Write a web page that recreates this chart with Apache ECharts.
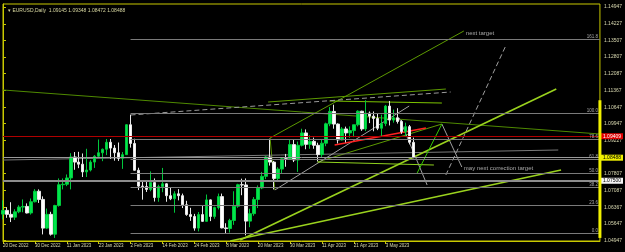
<!DOCTYPE html>
<html>
<head>
<meta charset="utf-8">
<script src="https://cdn.jsdelivr.net/npm/echarts@6/dist/echarts.min.js"></script>
<style>
  html, body { margin: 0; padding: 0; background: #000; }
  #chart { width: 625px; height: 252px; }
</style>
</head>
<body>
<div id="chart"></div>
<script>
// EURUSD daily, 20 Dec 2022 .. 12 May 2023 (bar index 0..103)
const openPrices = [1.0607,1.0623,1.0606,1.0594,1.0617,1.0637,1.0640,1.0612,1.0660,
  1.0705,1.0670,1.0547,1.0606,1.0521, 1.0644,1.0733,1.0735,1.0762,1.0852,
  1.0830,1.0821,1.0788,1.0796,1.0830, 1.0855,1.0870,1.0885,1.0915,1.0890,
  1.0870,1.0846,1.0862,1.0990,1.0910, 1.0795,1.0727,1.0725,1.0713,1.0742,
  1.0678,1.0725,1.0737,1.0686,1.0673, 1.0694,1.0686,1.0647,1.0605,1.0597,
  1.0547,1.0605,1.0576,1.0668,1.0597, 1.0635,1.0682,1.0548,1.0545,1.0580,
  1.0641,1.0733,1.0732,1.0577,1.0609, 1.0670,1.0719,1.0769,1.0852,1.0830,
  1.0760,1.0800,1.0844,1.0843,1.0905, 1.0839,1.0902,1.0955,1.0906,1.0919,
  1.0902,1.0862,1.0911,1.0994,1.1047, 1.0993,1.0925,1.0972,1.0955,1.0965,
  1.0990,1.1048,1.0972,1.1040,1.1027, 1.1017,1.0975,1.0995,1.1070,1.1010,
  1.1020,1.1004,1.0960,1.0982,1.09145]
const closePrices = [1.0623,1.0606,1.0594,1.0617,1.0637,1.0640,1.0612,1.0660,1.0705,
  1.0670,1.0547,1.0606,1.0521,1.0644, 1.0733,1.0735,1.0762,1.0852,1.0830,
  1.0821,1.0788,1.0796,1.0830,1.0855, 1.0870,1.0885,1.0915,1.0890,1.0870,
  1.0846,1.0862,1.0990,1.0910,1.0795, 1.0727,1.0725,1.0713,1.0742,1.0678,
  1.0725,1.0737,1.0686,1.0673,1.0694, 1.0686,1.0647,1.0605,1.0597,1.0547,
  1.0605,1.0576,1.0668,1.0597,1.0635, 1.0682,1.0548,1.0545,1.0580,1.0641,
  1.0733,1.0732,1.0577,1.0609,1.0670, 1.0719,1.0769,1.0852,1.0830,1.0760,
  1.0800,1.0844,1.0843,1.0905,1.0839, 1.0902,1.0955,1.0906,1.0919,1.0902,
  1.0862,1.0911,1.0994,1.1047,1.0993, 1.0925,1.0972,1.0955,1.0965,1.0990,
  1.1048,1.0972,1.1040,1.1027,1.1017, 1.0975,1.0995,1.1070,1.1010,1.1020,
  1.1004,1.0960,1.0982,1.0915,1.08488]
const highPrices = [1.0666,1.0637,1.0658,1.0628,1.0645,1.0670,1.0653,1.0674,1.0714,
  1.0713,1.0683,1.0631,1.0617,1.0647, 1.0760,1.0760,1.0777,1.0868,1.0873,
  1.0874,1.0867,1.0887,1.0838,1.0860, 1.0927,1.0888,1.0929,1.0929,1.0903,
  1.0914,1.0873,1.0992,1.1033,1.0930, 1.0806,1.0748,1.0745,1.0790,1.0760,
  1.0733,1.0805,1.0740,1.0720,1.0705, 1.0714,1.0695,1.0664,1.0634,1.0608,
  1.0616,1.0645,1.0691,1.0670,1.0639, 1.0695,1.0695,1.0568,1.0587,1.0705,
  1.0737,1.0759,1.0760,1.0630,1.0680, 1.0730,1.0788,1.0857,1.0930,1.0835,
  1.0808,1.0847,1.0865,1.0927,1.0925, 1.0918,1.0973,1.0970,1.0945,1.0935,
  1.0913,1.0927,1.0999,1.1066,1.1076, 1.0996,1.0980,1.0982,1.0983,1.0990,
  1.1052,1.1050,1.1095,1.1047,1.1047, 1.1038,1.1033,1.1075,1.1092,1.1055,
  1.1061,1.1010,1.0999,1.0989,1.09348]
const lowPrices = [1.0585,1.0591,1.0573,1.0582,1.0611,1.0615,1.0610,1.0605,1.0657,
  1.0655,1.0520,1.0543,1.0515,1.0505, 1.0639,1.0713,1.0727,1.0713,1.0797,
  1.0804,1.0766,1.0766,1.0790,1.0805, 1.0849,1.0834,1.0860,1.0844,1.0836,
  1.0835,1.0801,1.0862,1.0892,1.0794, 1.0710,1.0669,1.0702,1.0705,1.0661,
  1.0660,1.0701,1.0660,1.0667,1.0613, 1.0666,1.0633,1.0600,1.0578,1.0536,
  1.0533,1.0574,1.0575,1.0577,1.0587, 1.0627,1.0546,1.0524,1.0528,1.0561,
  1.0634,1.0688,1.0516,1.0551,1.0600, 1.0633,1.0714,1.0757,1.0815,1.0713,
  1.0748,1.0782,1.0810,1.0840,1.0830, 1.0788,1.0897,1.0885,1.0887,1.0887,
  1.0833,1.0852,1.0898,1.0984,1.0973, 1.0910,1.0923,1.0914,1.0934,1.0937,
  1.0983,1.0964,1.0963,1.0997,1.0962, 1.0967,1.0941,1.0984,1.0987,1.0999,
  1.0995,1.0951,1.0942,1.0906,1.08472]

const xTickBars = [0, 8, 16, 24, 32, 40, 48, 56, 64, 72, 80, 88, 96]
const xTickLabels = ['20 Dec 2022', '30 Dec 2022', '11 Jan 2023', '23 Jan 2023', '2 Feb 2023',
  '14 Feb 2023', '24 Feb 2023', '8 Mar 2023', '20 Mar 2023', '30 Mar 2023', '11 Apr 2023',
  '21 Apr 2023', '3 May 2023']
const yTicks = [1.14947, 1.14227, 1.13507, 1.12807, 1.12087, 1.11367, 1.10647, 1.09947,
  1.09227, 1.07807, 1.07087, 1.06367, 1.05647, 1.04947]

// fibonacci retracement, anchored Feb 2 high -> Feb 24
const fibAnchorBars = [32, 48]
const fibHigh = 1.1038
const fibLow = 1.0526
const fibRatios = [0, 23.6, 38.2, 50.0, 61.8, 78.6, 100.0, 161.8]

// horizontal price lines
const redLevel = 1.09409
const bidLevel = 1.08488
const whiteLevel = 1.07500

// hand drawn lines, [bar, price]
const oliveFall = [[0, 1.11390], [149.75, 1.09504]]
const oliveTarget = [[68.2, 1.07104], [67.0, 1.09332], [115.6, 1.13918]]
const oliveTop = [[66.5, 1.10875], [111.1, 1.11432]]
const oliveTri = [[78.9, 1.08304], [110.1, 1.09932]]
const limeTopFlat = [[81.9, 1.10918], [110.1, 1.10832]]
const greyDashTop = [[32, 1.10318], [112.3, 1.11304]]
const greyDashSteep = [[111.1, 1.07747], [126.1, 1.13275]]
const greyLong = [[0, 1.08389], [139.3, 1.08818]]
const greyRise = [[68.2, 1.07104], [101.9, 1.10704]]
const greyDown1 = [[99.4, 1.10189], [106.4, 1.07318]]
const greyDown2 = [[110.1, 1.09932], [115.1, 1.08089]]
const limeSteep = [[59.5, 1.04961], [138.8, 1.11432]]
const limeLow = [[57.0, 1.04918], [140.0, 1.07961]]
const limeFlat = [[78.9, 1.08304], [108.1, 1.08175]]
const greenZig = [[103.9, 1.07832], [110.1, 1.09932]]
const redShort = [[83.2, 1.09032], [106.1, 1.09761]]

const notes = [
    { text: 'next target', at: [116.1, 1.13833] },
    { text: 'may next correction target', at: [115.6, 1.08047] },
]

const X_MAX = 149.75
const FONT = 'Liberation Sans'
const AXIS_TEXT = '#d8d8b0'

const chart = echarts.init(document.getElementById('chart'))

const candles = openPrices.map((o, i) => [i, o, closePrices[i], lowPrices[i], highPrices[i]])

function seg(points, color, width, type) {
    return {
        type: 'line',
        data: points,
        symbol: 'none',
        silent: true,
        animation: false,
        lineStyle: { color: color, width: width, type: type || 'solid' },
        z: 3,
    }
}

const fibSpan = fibHigh - fibLow
const fibLines = fibRatios.map(r => {
    const v = fibLow + fibSpan * r / 100
    return [
        { coord: [fibAnchorBars[0], v], label: { formatter: r.toFixed(1) } },
        { coord: [X_MAX, v] },
    ]
})

function priceLine(value, lineColor, lineWidth, bg, fg) {
    return [
        { coord: [0, value], lineStyle: { color: lineColor, width: lineWidth, type: 'solid' } },
        {
            coord: [X_MAX, value],
            label: {
                show: true,
                position: 'end',
                distance: 1,
                formatter: value.toFixed(5),
                backgroundColor: bg,
                color: fg,
                padding: [1, 2, 0, 2],
                fontSize: 5,
                fontFamily: FONT,
            },
        },
    ]
}

chart.setOption({
    backgroundColor: '#000',
    animation: false,
    title: {
        text: '\u25BE EURUSD,Daily  1.09145 1.09348 1.08472 1.08488',
        left: 3,
        top: 3,
        textStyle: { color: '#d8d8a0', fontSize: 5, fontWeight: 'normal', fontFamily: FONT },
    },
    grid: {
        left: 1.5,
        right: 23,
        top: 4,
        bottom: 11,
        show: true,
        borderColor: '#c8c800',
        borderWidth: 1,
        backgroundColor: '#000',
    },
    xAxis: {
        type: 'value',
        min: 0,
        max: X_MAX,
        splitLine: { show: false },
        axisLine: { show: true, lineStyle: { color: '#c8c800' } },
        axisTick: {
            show: true,
            customValues: xTickBars,
            length: 3,
            lineStyle: { color: '#c8c800' },
        },
        axisLabel: {
            customValues: xTickBars,
            formatter: v => xTickLabels[xTickBars.indexOf(v)] || '',
            color: AXIS_TEXT,
            fontSize: 4.5,
            fontFamily: FONT,
            align: 'left',
            margin: 2,
        },
    },
    yAxis: {
        type: 'value',
        position: 'right',
        min: 1.04918,
        max: 1.15076,
        scale: true,
        splitLine: { show: false },
        axisLine: { show: true, lineStyle: { color: '#c8c800' } },
        axisTick: {
            show: true,
            customValues: yTicks,
            length: 3,
            lineStyle: { color: '#c8c800' },
        },
        axisLabel: {
            customValues: yTicks,
            formatter: v => v.toFixed(5),
            color: AXIS_TEXT,
            fontSize: 5,
            fontFamily: FONT,
            margin: 4,
        },
    },
    series: [
        {
            type: 'line',
            data: [],
            silent: true,
            markLine: {
                symbol: 'none',
                silent: true,
                precision: 5,
                lineStyle: { color: '#7a7a7a', width: 1, type: 'solid' },
                label: {
                    show: true,
                    position: 'insideEndTop',
                    distance: [2, 0],
                    color: '#a8a8a8',
                    fontSize: 4.5,
                    fontFamily: FONT,
                },
                data: fibLines,
            },
            z: 2,
        },
        {
            type: 'line',
            data: [],
            silent: true,
            markLine: {
                symbol: 'none',
                silent: true,
                precision: 5,
                data: [
                    priceLine(redLevel, '#b00000', 1, '#e00000', '#fff'),
                    priceLine(bidLevel, '#9a9a9a', 1, '#f0f000', '#000'),
                    priceLine(whiteLevel, '#8c8c8c', 2, '#f4f4f4', '#000'),
                ],
            },
            z: 2,
        },
        {
            type: 'candlestick',
            data: candles,
            encode: { x: 0, y: [1, 2, 3, 4] },
            barWidth: 3,
            silent: true,
            itemStyle: {
                color: '#00e64c',
                color0: '#ffffff',
                borderColor: '#00c83c',
                borderColor0: '#e8e8e8',
                borderWidth: 1,
            },
            z: 4,
        },
        seg(oliveFall, '#4f8a00', 1),
        seg(oliveTarget, '#5d9a00', 1),
        seg(oliveTop, '#5d9a00', 1),
        seg(oliveTri, '#5d9a00', 1),
        seg(limeTopFlat, '#7cc400', 1),
        seg(greyDashTop, '#9a9a9a', 1, [5, 3]),
        seg(greyDashSteep, '#a0a0a0', 1, [5, 3]),
        seg(greyLong, '#7a7a7a', 1),
        seg(greyRise, '#a0a0a0', 1),
        seg(greyDown1, '#a0a0a0', 1),
        seg(greyDown2, '#a0a0a0', 1),
        seg(limeSteep, '#9ad21e', 1.6),
        seg(limeLow, '#9ad21e', 1.6),
        seg(limeFlat, '#8fd21e', 1),
        seg(greenZig, '#36c800', 1),
        seg(redShort, '#ff2020', 1.5),
        {
            type: 'scatter',
            silent: true,
            symbolSize: 0,
            data: notes.map(n => ({ value: n.at, name: n.text })),
            label: {
                show: true,
                position: 'right',
                distance: 0,
                formatter: p => p.name,
                color: '#d0d0d0',
                fontSize: 6,
                fontFamily: FONT,
            },
            z: 6,
        },
        {
            // visible price range marker on the price scale
            type: 'line',
            data: [[X_MAX, Math.min(...lowPrices)], [X_MAX, Math.max(...highPrices)]],
            symbol: 'none',
            silent: true,
            clip: false,
            lineStyle: { color: '#f0f000', width: 3 },
            z: 7,
        },
    ],
})
</script>
</body>
</html>
